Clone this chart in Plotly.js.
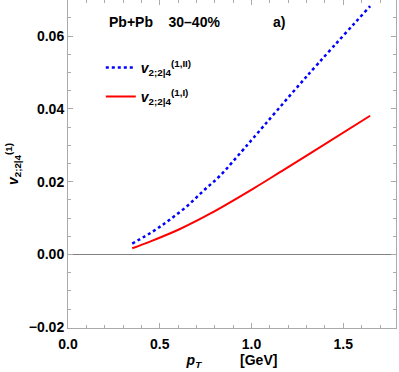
<!DOCTYPE html>
<html>
<head>
<meta charset="utf-8">
<script src="https://cdn.plot.ly/plotly-3.0.1.min.js"></script>
<style>
  body { margin: 0; background: #fff; }
  #chart { width: 399px; height: 372px; }
</style>
</head>
<body>
<div id="chart"></div>
<script>
// v_{2;2|4}^{(1,II)}  (blue dotted)
const ptII = [0.35, 0.465, 0.55, 0.647, 0.74, 0.828, 0.946, 1.01, 1.30, 1.646];
const vII = [0.0030, 0.0064, 0.0094, 0.0132, 0.0176, 0.0216, 0.0283, 0.0320, 0.0489, 0.0682];

// v_{2;2|4}^{(1,I)}  (red solid)
const ptI = [0.35, 0.45, 0.61, 0.774, 1.01, 1.155, 1.337, 1.646];
const vI = [0.0017, 0.0036, 0.0070, 0.0112, 0.0181, 0.0226, 0.0283, 0.0381];

const xTicks = [0.0, 0.5, 1.0, 1.5];
const xTickText = ['0.0', '0.5', '1.0', '1.5'];
const yTicks = [-0.02, 0.0, 0.02, 0.04, 0.06];
const yTickText = ['\u22120.02', '0.00', '0.02', '0.04', '0.06'];

const font = { family: 'Liberation Sans, Arial, sans-serif', size: 14, color: '#000', weight: 'bold' };
const legendFont = Object.assign({}, font, { size: 14 });

const traceII = {
    x: ptII,
    y: vII,
    type: 'scatter',
    mode: 'lines',
    name: '<i>v</i><sub>2;2|4</sub><sup>(1,II)</sup>',
    legend: 'legend',
    line: { color: 'rgb(0, 0, 255)', width: 2.5, dash: 'dot', shape: 'spline' }
};

const traceI = {
    x: ptI,
    y: vI,
    type: 'scatter',
    mode: 'lines',
    name: '<i>v</i><sub>2;2|4</sub><sup>(1,I)</sup>',
    legend: 'legend2',
    line: { color: 'rgb(255, 0, 0)', width: 2, shape: 'spline' }
};

const axisCommon = {
    showline: true,
    linecolor: '#aaa',
    linewidth: 1,
    mirror: 'ticks',
    ticks: 'inside',
    ticklen: 5,
    tickcolor: '#aaa',
    showgrid: false,
    tickfont: font
};

const legendCommon = {
    xanchor: 'left', yanchor: 'middle',
    bgcolor: 'rgba(0,0,0,0)',
    font: legendFont
};

const layout = {
    width: 399,
    height: 372,
    margin: { l: 68, r: 3, t: 0, b: 44 },
    paper_bgcolor: '#fff',
    plot_bgcolor: '#fff',
    font: font,
    showlegend: true,
    legend: Object.assign({}, legendCommon, { x: 0.1, y: 1 - 68 / 328 }),
    legend2: Object.assign({}, legendCommon, { x: 0.1, y: 1 - 97 / 328 }),
    xaxis: Object.assign({}, axisCommon, {
        range: [0, 1.787],
        tickvals: xTicks,
        ticktext: xTickText,
        ticklabelstandoff: 3,
        zeroline: false,
        minor: { dtick: 0.1, ticks: 'inside', ticklen: 3, tickcolor: '#aaa' },
        title: { text: '<i>p<sub>T</sub></i>          [GeV]', font: font, standoff: 4 }
    }),
    yaxis: Object.assign({}, axisCommon, {
        range: [-0.0202, 0.0699],
        tickvals: yTicks,
        ticktext: yTickText,
        zeroline: true,
        zerolinecolor: '#808080',
        zerolinewidth: 1,
        minor: { dtick: 0.005, tick0: 0, ticks: 'inside', ticklen: 3, tickcolor: '#aaa' },
        title: { text: '<i>v</i><sub>2;2|4</sub><sup>(1)</sup>', font: font, standoff: 6 }
    }),
    annotations: [
        { xref: 'paper', yref: 'paper', x: 0.12, y: 0.933, xanchor: 'left', yanchor: 'middle',
          text: 'Pb+Pb    30\u201340%', showarrow: false, font: font },
        { xref: 'paper', yref: 'paper', x: 0.62, y: 0.933, xanchor: 'left', yanchor: 'middle',
          text: 'a)', showarrow: false, font: font }
    ]
};

Plotly.newPlot('chart', [traceII, traceI], layout, { displayModeBar: false, staticPlot: true });
</script>
</body>
</html>
